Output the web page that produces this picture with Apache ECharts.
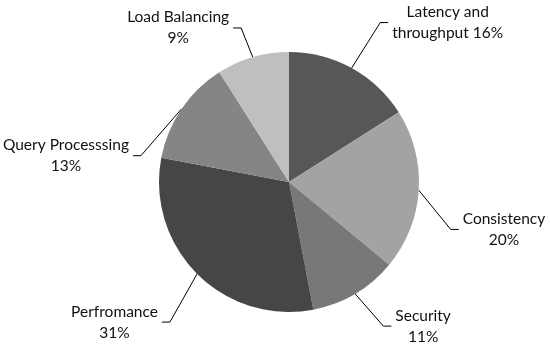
<!DOCTYPE html>
<html>
<head>
<meta charset="utf-8">
<script src="https://cdn.jsdelivr.net/npm/echarts@6/dist/echarts.min.js"></script>
<style>
  html, body { margin: 0; padding: 0; background: #ffffff; }
  #chart { width: 550px; height: 344px; }
</style>
</head>
<body>
<div id="chart"></div>
<script>
// Data
const categories = ['Latency and\nthroughput', 'Consistency', 'Security', 'Perfromance', 'Query Processsing', 'Load Balancing'];
const values = [16, 20, 11, 31, 13, 9];

// Styles
const sliceColors = ['#575757', '#a3a3a3', '#787878', '#464646', '#858585', '#bfbfbf'];
// label nudges [dx, dy] relative to library's default outside position
const labelNudges = [[14, -28], [7, 38], [13, 15], [-8, 34], [-19, 58], [-1, -10]];

const chart = echarts.init(document.getElementById('chart'), null, { renderer: 'canvas' });

const seriesData = categories.map((name, i) => ({
  name: name,
  value: values[i],
  itemStyle: { color: sliceColors[i] }
}));

chart.setOption({
  animation: false,
  backgroundColor: '#ffffff',
  series: [{
    type: 'pie',
    radius: 130,
    center: [289, 182],
    startAngle: 90,
    clockwise: true,
    avoidLabelOverlap: false,
    data: seriesData,
    itemStyle: { borderWidth: 0 },
    emphasis: { disabled: true },
    label: {
      show: true,
      position: 'outside',
      color: '#111111',
      fontFamily: 'Lato',
      fontSize: 15.5,
      lineHeight: 21,
      padding: [0, 4],
      formatter: function (p) {
        const pct = p.percent.toFixed(0) + '%';
        const txt = p.name.indexOf('\n') >= 0 ? p.name + ' ' + pct : p.name + '\n' + pct;
        return txt.split('\n').map(s => '{c|' + s + '}').join('\n');
      },
      rich: {
        c: { align: 'center', fontFamily: 'Lato', fontSize: 15.5, lineHeight: 21, color: '#111111' }
      }
    },
    labelLine: {
      show: true,
      length: 20,
      length2: 8,
      lineStyle: { color: '#000000', width: 1 }
    },
    labelLayout: function (params) {
      const n = labelNudges[params.dataIndex];
      const r = params.labelRect;
      return { x: r.x + n[0], y: r.y + n[1], align: 'left', verticalAlign: 'top' };
    }
  }]
});
</script>
</body>
</html>
